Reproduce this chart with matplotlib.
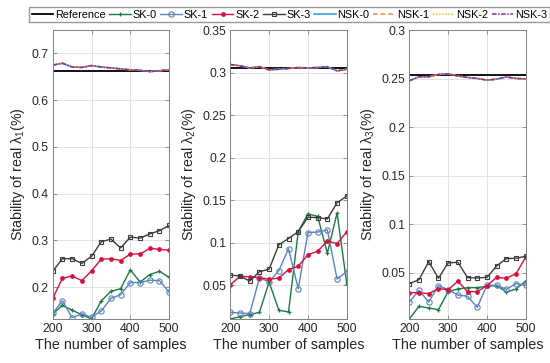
import numpy as np
import matplotlib
matplotlib.use("Agg")
import matplotlib.pyplot as plt
from matplotlib.ticker import FormatStrFormatter

plt.rcParams['font.family'] = ['Liberation Sans', 'DejaVu Sans']
plt.rcParams['mathtext.fontset'] = 'custom'
plt.rcParams['mathtext.rm'] = 'Liberation Sans'
plt.rcParams['mathtext.it'] = 'Liberation Sans'

# number of samples
samples = [200, 225, 250, 275, 300, 325, 350, 375, 400, 425, 450, 475, 500]

# lambda 1
ref_1 = 0.663
sk0_1 = [0.143, 0.161, 0.151, 0.141, 0.132, 0.171, 0.191, 0.197, 0.237, 0.211, 0.227, 0.234, 0.221]
sk1_1 = [0.144, 0.171, 0.135, 0.143, 0.136, 0.149, 0.176, 0.184, 0.210, 0.210, 0.215, 0.214, 0.189]
sk2_1 = [0.176, 0.219, 0.224, 0.214, 0.235, 0.260, 0.261, 0.257, 0.271, 0.271, 0.283, 0.281, 0.279]
sk3_1 = [0.234, 0.261, 0.261, 0.251, 0.266, 0.297, 0.303, 0.284, 0.307, 0.305, 0.314, 0.321, 0.332]
nsk_1 = [0.675, 0.679, 0.671, 0.670, 0.674, 0.671, 0.669, 0.667, 0.665, 0.664, 0.661, 0.663, 0.665]

# lambda 2
ref_2 = 0.3055
sk0_2 = [0.0104, 0.0132, 0.0155, 0.0183, 0.0538, 0.0207, 0.0187, 0.113, 0.134, 0.131, 0.0878, 0.135, 0.0519]
sk1_2 = [0.0183, 0.0175, 0.0167, 0.0586, 0.0542, 0.0672, 0.093, 0.046, 0.112, 0.1126, 0.115, 0.0574, 0.066]
sk2_2 = [0.0507, 0.0605, 0.060, 0.059, 0.057, 0.0586, 0.0684, 0.0724, 0.086, 0.090, 0.102, 0.099, 0.113]
sk3_2 = [0.0621, 0.0609, 0.055, 0.066, 0.069, 0.0976, 0.105, 0.113, 0.130, 0.1296, 0.128, 0.147, 0.155]
nsk_2 = [0.3095, 0.308, 0.3055, 0.307, 0.3032, 0.304, 0.3048, 0.306, 0.3055, 0.306, 0.307, 0.302, 0.304]

# lambda 3
ref_3 = 0.2535
sk0_3 = [0.0026, 0.0157, 0.0139, 0.0122, 0.0308, 0.0335, 0.0349, 0.0349, 0.0363, 0.037, 0.0304, 0.0335, 0.0418]
sk1_3 = [0.0201, 0.0321, 0.0201, 0.037, 0.0328, 0.0273, 0.026, 0.0146, 0.0373, 0.0373, 0.0332, 0.039, 0.0373]
sk2_3 = [0.0297, 0.0297, 0.0287, 0.0339, 0.0328, 0.0414, 0.0308, 0.0308, 0.037, 0.0455, 0.0445, 0.0493, 0.0665]
sk3_3 = [0.039, 0.0431, 0.0617, 0.0445, 0.0603, 0.061, 0.0452, 0.0448, 0.0455, 0.0572, 0.0648, 0.0651, 0.0672]
nsk_3 = [0.2478, 0.2519, 0.2519, 0.2543, 0.255, 0.2527, 0.2512, 0.2502, 0.2484, 0.2495, 0.2517, 0.2502, 0.2498]

panels = [
    (ref_1, [sk0_1, sk1_1, sk2_1, sk3_1], nsk_1, (0.132, 0.75), np.arange(0.2, 0.75, 0.1), 1),
    (ref_2, [sk0_2, sk1_2, sk2_2, sk3_2], nsk_2, (0.0104, 0.35), np.arange(0.05, 0.36, 0.05), 2),
    (ref_3, [sk0_3, sk1_3, sk2_3, sk3_3], nsk_3, (0.0026, 0.3), np.arange(0.05, 0.31, 0.05), 3),
]

sk_styles = [
    dict(color='#1a7a40', marker='+', markersize=3.5, markeredgewidth=0.9),
    dict(color='#5b82c0', marker='o', markersize=3.8, markerfacecolor='none', markeredgewidth=0.8),
    dict(color='#d5103c', marker='o', markersize=2.4, markerfacecolor='#d5103c'),
    dict(color='#3c3c3c', marker='s', markersize=3.0, markerfacecolor='none', markeredgewidth=0.8),
]
nsk_styles = [
    dict(color='#1a9be0', linestyle='-'),
    dict(color='#f58442', linestyle=(0, (3, 2))),
    dict(color='#f2c21c', linestyle=(0, (1, 1))),
    dict(color='#8a2ba3', linestyle=(0, (3, 1, 1, 1))),
]
sk_names = ['SK-0', 'SK-1', 'SK-2', 'SK-3']
nsk_names = ['NSK-0', 'NSK-1', 'NSK-2', 'NSK-3']

fig = plt.figure(figsize=(5.5, 3.63), dpi=100)
lefts = [0.0958, 0.4187, 0.7442]

for left, (ref, sks, nsk, ylim, yticks, k) in zip(lefts, panels):
    ax = fig.add_axes([left, 0.1212, 0.2118, 0.7960])
    ax.plot([samples[0], samples[-1]], [ref, ref], color='black', lw=1.3, label='Reference')
    for vals, st, name in zip(sks, sk_styles, sk_names):
        ax.plot(samples, vals, lw=1.0, label=name, **st)
    for st, name in zip(nsk_styles, nsk_names):
        ax.plot(samples, nsk, lw=1.1, label=name, **st)
    ax.set_xlim(200, 500)
    ax.set_ylim(*ylim)
    ax.set_xticks([200, 300, 400, 500])
    ax.set_yticks(yticks)
    ax.yaxis.set_major_formatter(FormatStrFormatter('%g'))
    ax.grid(True, color='#e3e3e3', lw=0.7)
    ax.set_axisbelow(True)
    ax.tick_params(direction='in', top=True, right=True, length=3, width=0.6,
                   colors='#808080', labelcolor='#262626', labelsize=8.8, pad=3)
    for s in ax.spines.values():
        s.set_color('#808080')
        s.set_linewidth(0.7)
    ax.set_xlabel('The number of samples', fontsize=10.4, color='#262626', labelpad=2)
    ax.set_ylabel('Stability of real $\\lambda_%d$(%%)' % k, fontsize=10.3, color='#262626', labelpad=3)

handles, labels = ax.get_legend_handles_labels()
fig.legend(handles, labels, loc='center', bbox_to_anchor=(0.526, 0.960), ncol=9,
           fontsize=7.8, frameon=True, fancybox=False, edgecolor='#808080',
           handlelength=2.0, handletextpad=0.15, columnspacing=0.35,
           borderpad=0.25, borderaxespad=0)

fig.savefig('out.png', dpi=100)
